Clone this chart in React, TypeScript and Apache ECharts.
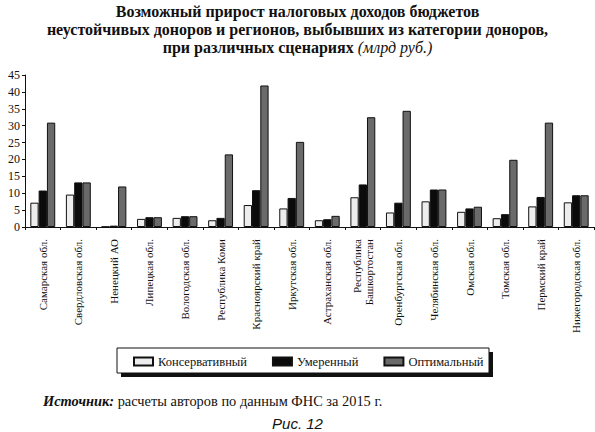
import * as echarts from 'echarts';
import { useEffect, useRef } from 'react';

const REGIONS = [
  'Самарская обл.',
  'Свердловская обл.',
  'Ненецкий АО',
  'Липецкая обл.',
  'Вологодская обл.',
  'Республика Коми',
  'Красноярский край',
  'Иркутская обл.',
  'Астраханская обл.',
  'Республика\nБашкортостан',
  'Оренбургская обл.',
  'Челябинская обл.',
  'Омская обл.',
  'Томская обл.',
  'Пермский край',
  'Нижегородская обл.',
];

// млрд руб.
const CONSERVATIVE = [7.2, 9.6, 0.1, 2.4, 2.7, 2.0, 6.5, 5.5, 2.0, 8.8, 4.3, 7.6, 4.5, 2.6, 6.1, 7.3];
const MODERATE = [10.8, 13.2, 0.4, 2.9, 3.2, 2.7, 10.9, 8.6, 2.3, 12.6, 7.2, 11.1, 5.5, 3.8, 8.9, 9.4];
const OPTIMAL = [30.9, 13.2, 12.0, 2.9, 3.2, 21.5, 41.9, 25.2, 3.3, 32.5, 34.4, 11.1, 6.0, 19.9, 30.9, 9.4];

const SCENARIOS = ['Консервативный', 'Умеренный', 'Оптимальный'];
const SCENARIO_COLORS = ['#ededed', '#0b0b0b', '#6a6a6a'];

const SERIF = '"Liberation Serif", "DejaVu Serif", serif';

export default function App() {
  const ref = useRef<HTMLDivElement | null>(null);

  useEffect(() => {
    if (!ref.current) return undefined;
    const chart = echarts.init(ref.current, undefined, { renderer: 'svg' });

    const values = [CONSERVATIVE, MODERATE, OPTIMAL];

    chart.setOption({
      animation: false,
      backgroundColor: '#fff',
      title: [
        {
          left: 'center',
          top: -3,
          text:
            '{b|Возможный прирост налоговых доходов бюджетов}\n' +
            '{b|неустойчивых доноров и регионов, выбывших из категории доноров,}\n' +
            '{b|при различных сценариях }{i|(млрд руб.)}',
          textStyle: {
            fontWeight: 'normal',
            rich: {
              b: { fontFamily: SERIF, fontWeight: 'bold', fontSize: 16, lineHeight: 18, color: '#111' },
              i: {
                fontFamily: SERIF,
                fontWeight: 'normal',
                fontStyle: 'italic',
                fontSize: 16,
                lineHeight: 18,
                color: '#111',
              },
            },
          },
        },
        {
          left: 38,
          top: 389,
          text: '{bi|Источник:}{r| расчеты авторов по данным ФНС за 2015 г.}',
          textStyle: {
            fontWeight: 'normal',
            rich: {
              bi: { fontFamily: SERIF, fontWeight: 'bold', fontStyle: 'italic', fontSize: 14.4, color: '#111' },
              r: { fontFamily: SERIF, fontWeight: 'normal', fontSize: 14.4, color: '#111' },
            },
          },
        },
        {
          left: 'center',
          top: 411,
          text: 'Рис. 12',
          textStyle: {
            fontFamily: '"Liberation Sans", Arial, sans-serif',
            fontStyle: 'italic',
            fontWeight: 'normal',
            fontSize: 15,
            lineHeight: 15,
            color: '#111',
          },
        },
      ],
      graphic: [
        {
          type: 'rect',
          z: 1,
          shape: { x: 121, y: 352, width: 372, height: 25 },
          style: { fill: '#111' },
        },
        {
          type: 'rect',
          z: 2,
          shape: { x: 117, y: 348, width: 372, height: 25 },
          style: { fill: '#fff', stroke: '#111', lineWidth: 1 },
        },
      ],
      legend: {
        left: 117,
        top: 348,
        z: 5,
        padding: [7, 6, 7, 16],
        itemGap: 25,
        itemWidth: 19,
        itemHeight: 8,
        icon: 'rect',
        textStyle: { fontFamily: SERIF, fontSize: 12.5, color: '#111' },
        data: SCENARIOS,
      },
      grid: { left: 25, right: 1, top: 75, bottom: 205 },
      xAxis: {
        type: 'category',
        data: REGIONS,
        axisLine: { lineStyle: { color: '#111', width: 1 } },
        axisTick: { show: true, length: 3, lineStyle: { color: '#111' } },
        axisLabel: {
          interval: 0,
          rotate: 90,
          margin: 12,
          fontFamily: SERIF,
          fontSize: 11,
          lineHeight: 12,
          color: '#111',
        },
      },
      yAxis: {
        type: 'value',
        min: 0,
        max: 45,
        interval: 5,
        splitLine: { show: false },
        axisLine: { show: true, lineStyle: { color: '#111', width: 1 } },
        axisTick: { show: true, length: 3, lineStyle: { color: '#111' } },
        axisLabel: { margin: 5, fontFamily: SERIF, fontSize: 12, color: '#111' },
      },
      series: SCENARIOS.map((name, i) => ({
        name,
        type: 'bar',
        data: values[i],
        barGap: '0%',
        barCategoryGap: '30%',
        itemStyle: { color: SCENARIO_COLORS[i], borderColor: '#111', borderWidth: 1 },
      })),
    });

    return () => {
      chart.dispose();
    };
  }, []);

  return <div ref={ref} style={{ position: 'fixed', left: 0, top: 0, width: 595, height: 432 }} />;
}
